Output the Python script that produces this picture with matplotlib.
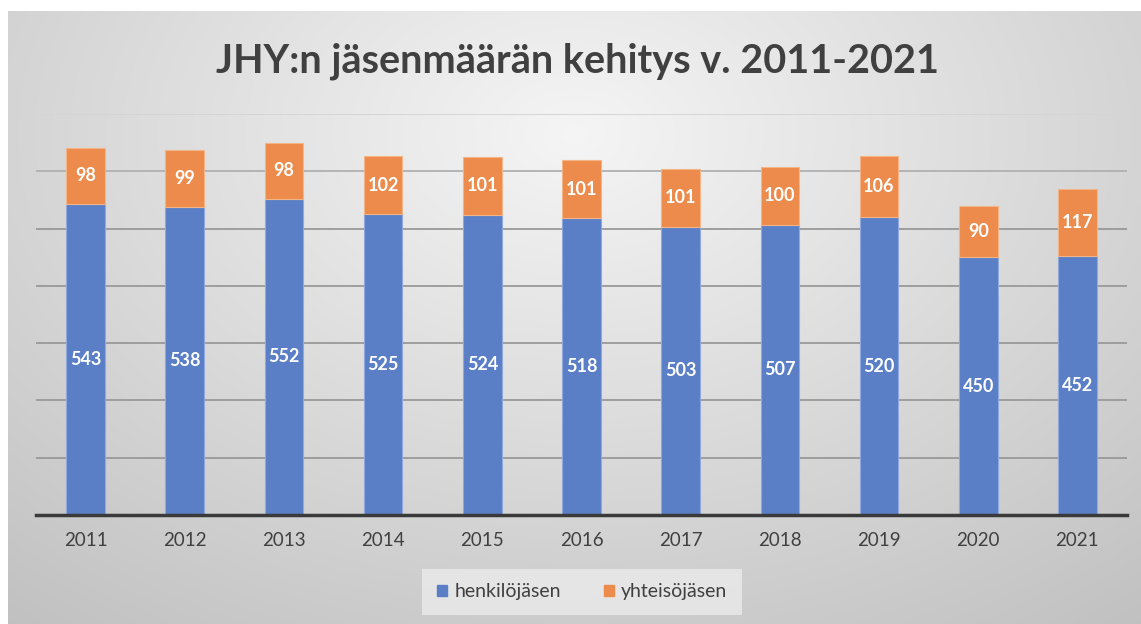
import numpy as np
import matplotlib.pyplot as plt
from matplotlib.patches import Patch

# ───────── DATA ─────────
years = ['2011', '2012', '2013', '2014', '2015', '2016', '2017', '2018', '2019', '2020', '2021']
henkilo = [543, 538, 552, 525, 524, 518, 503, 507, 520, 450, 452]
yhteiso = [98, 99, 98, 102, 101, 101, 101, 100, 106, 90, 117]

blue = '#5a7fc7'
orange = '#ec8b4b'
txt = '#404040'

plt.rcParams['font.family'] = ['Lato', 'DejaVu Sans']

W, H = 1141, 624
fig = plt.figure(figsize=(W/100, H/100), dpi=100, facecolor='white')

# ───── radial gradient background ─────
bg = fig.add_axes([8/W, 0, 1 - 8/W, (H - 11)/H])
bg.set_axis_off()
gx, gy = np.meshgrid(np.linspace(0, 1, 400), np.linspace(0, 1, 220))
r = np.sqrt(((gx - 0.5) / 0.75)**2 + ((gy - 0.2) / 0.95)**2)
shade = 0.96 - 0.19 * np.clip(r, 0, 1.2)
bg.imshow(np.dstack([shade]*3), aspect='auto', extent=[0, 1, 1, 0], interpolation='bicubic')

# ───── bars ─────
ax = fig.add_axes([36/W, (H - 515)/H, (1127 - 36)/W, (515 - 114)/H])
ax.patch.set_alpha(0)
x = np.arange(len(years))
w = 0.39
ax.bar(x, henkilo, w, color=blue, edgecolor='#8fa9dd', linewidth=0.8, zorder=3)
ax.bar(x, yhteiso, w, bottom=henkilo, color=orange, edgecolor='#f3b487', linewidth=0.8, zorder=3)

for i in range(len(years)):
    ax.text(x[i], henkilo[i] / 2, str(henkilo[i]), ha='center', va='center',
            color='white', fontsize=13, fontweight='bold', zorder=4)
    ax.text(x[i], henkilo[i] + yhteiso[i] / 2, str(yhteiso[i]), ha='center', va='center',
            color='white', fontsize=13, fontweight='bold', zorder=4)

ax.set_xlim(-0.5, len(years) - 0.5)
ax.set_ylim(0, 700)
# gridlines: fainter towards the top, as in the original
for yv in range(100, 701, 100):
    c = '#d4d4d4' if yv == 700 else ('#b0b0b0' if yv == 600 else '#999999')
    ax.axhline(yv, color=c, linewidth=1.3, zorder=1)
ax.set_yticks([])
ax.tick_params(axis='x', length=0, pad=12, labelsize=13.5, labelcolor=txt)
ax.set_xticks(x)
ax.set_xticklabels(years)
for s in ['top', 'right', 'left']:
    ax.spines[s].set_visible(False)
ax.spines['bottom'].set_color('#3a3a3a')
ax.spines['bottom'].set_linewidth(2.5)
ax.spines['bottom'].set_zorder(5)

fig.text(578/W, 1 - 61/H, 'JHY:n jäsenmäärän kehitys v. 2011-2021', ha='center', va='center',
         fontsize=28.5, fontweight='bold', color=txt)

handles = [Patch(color=blue, label='henkilöjäsen'), Patch(color=orange, label='yhteisöjäsen')]
leg = fig.legend(handles=handles, loc='center', bbox_to_anchor=(582/W, 1 - 592/H), ncol=2,
                 frameon=True, fontsize=14, handlelength=0.55, handleheight=0.55,
                 handletextpad=0.35, columnspacing=2.2, borderpad=0.75)
leg.get_frame().set_facecolor('#ebebeb')
leg.get_frame().set_edgecolor('none')
leg.get_frame().set_boxstyle('square', pad=0)
for t in leg.get_texts():
    t.set_color(txt)

fig.savefig('out.png', dpi=100)
